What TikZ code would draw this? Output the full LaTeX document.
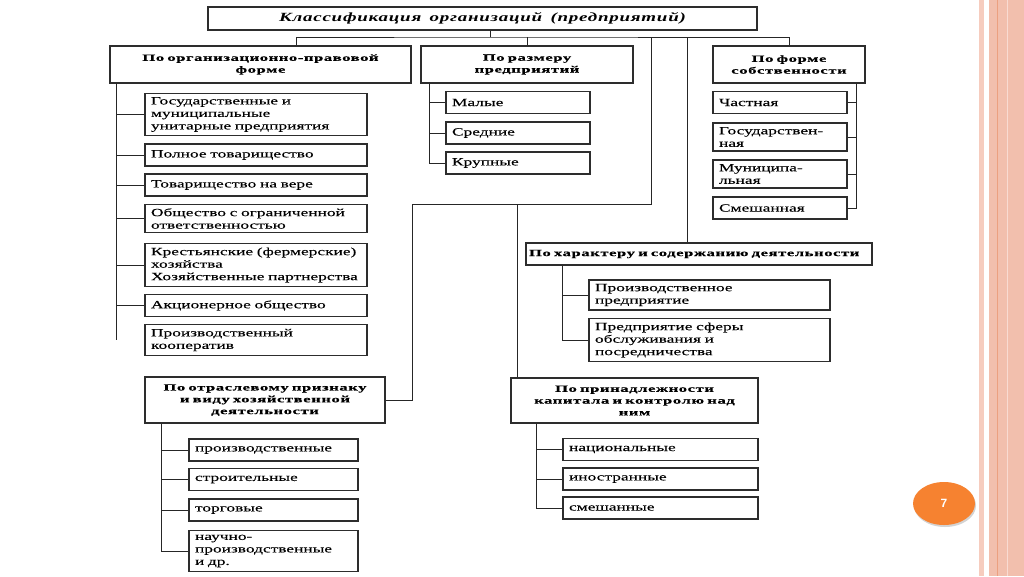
\documentclass[tikz,border=0pt]{standalone}
\usepackage{fontspec}
\setmainfont{Liberation Serif}[FakeStretch=1.58,FakeBold=0.15]
\newfontfamily\headfont{Liberation Serif}[FakeStretch=1.75,LetterSpace=6,WordSpace=1.7,FakeBold=0.4]
\newfontfamily\titlefont{Liberation Serif}[FakeStretch=1.52,LetterSpace=6,WordSpace=1.5]
\newfontfamily\numfont{Liberation Sans}
\usetikzlibrary{shapes.geometric,shadows}
\definecolor{numorange}{RGB}{246,130,48}
\definecolor{bandpink}{RGB}{242,191,173}
\definecolor{stripepink}{RGB}{246,204,190}
\definecolor{bandline}{RGB}{236,160,128}
\definecolor{boxgray}{RGB}{45,45,45}

\begin{document}
\begin{tikzpicture}[x=1pt,y=-1pt,
	cat/.style={draw=boxgray,line width=1.2pt,align=center,inner xsep=3pt,inner ysep=2pt,minimum height=37pt,
	  font=\headfont\bfseries\fontsize{9.5}{11.8}\selectfont,text width=#1},
	item/.style={draw=boxgray,line width=1.2pt,align=left,inner xsep=6pt,inner ysep=4pt,minimum height=22pt,
	  font=\fontsize{11}{12.5}\selectfont,text width=#1},
	link/.style={line width=0.9pt,draw=black!85}]
	\useasboundingbox (0,0) rectangle (1024,576);
	
	%page decoration
	\fill[stripepink] (979,0) rectangle (984,576);
	\fill[bandpink] (989,0) rectangle (1024,576);
	\draw[bandline,line width=0.8pt] (997,0) -- (997,576);
	\draw[stripepink!70!white,line width=0.8pt] (1007,0) -- (1007,576);
	
	%title and categories
	\node[draw=boxgray,line width=1.2pt,minimum width=549pt,minimum height=23pt,inner sep=0pt,
	  font=\titlefont\bfseries\itshape\fontsize{12.5}{14}\selectfont] (title) at (482.5,18.5)
	  {Классификация организаций (предприятий)};
	\node[cat=295pt] (org) at (260.5,64.5) {По организационно-правовой\\форме};
	\node[cat=206pt] (size) at (527,64.5) {По размеру\\предприятий};
	\node[cat=146pt] (form) at (789,64.5) {По форме\\собственности};
	\node[cat=340pt,minimum height=22pt,align=left] (har) at (699,254) {По характеру и содержанию деятельности};
	\node[cat=234pt,minimum height=46pt] (otr) at (265,400) {По отраслевому признаку\\и виду хозяйственной\\деятельности};
	\node[cat=241pt,minimum height=45pt] (prin) at (634.5,400.5) {По принадлежности\\капитала и контролю над\\ним};
	
	%legal forms
	\node[item=210pt] (gos) at (256,114.5) {Государственные и\\муниципальные\\унитарные предприятия};
	\node[item=210pt] (poln) at (256,155) {Полное товарищество};
	\node[item=210pt] (vera) at (256,185) {Товарищество на вере};
	\node[item=210pt] (ooo) at (256,218.5) {Общество с ограниченной\\ответственностью};
	\node[item=210pt] (krest) at (256,265) {Крестьянские (фермерские)\\хозяйства\\Хозяйственные партнерства};
	\node[item=210pt] (ao) at (256,305.5) {Акционерное общество};
	\node[item=210pt] (koop) at (256,340) {Производственный\\кооператив};
	
	%size
	\node[item=132pt] (mal) at (518,102.5) {Малые};
	\node[item=132pt] (sred) at (518,133) {Средние};
	\node[item=132pt] (krup) at (518,163) {Крупные};
	
	%ownership
	\node[item=122pt] (chast) at (780,102.5) {Частная};
	\node[item=122pt] (gosf) at (780,137) {Государствен-\\ная};
	\node[item=122pt] (mun) at (780,174) {Муниципа-\\льная};
	\node[item=122pt] (smesh) at (780,208) {Смешанная};
	
	%activity
	\node[item=229pt] (proizv) at (709.5,295) {Производственное\\предприятие};
	\node[item=229pt] (sfer) at (709.5,340) {Предприятие сферы\\обслуживания и\\посредничества};
	
	%branch
	\node[item=157pt] (pr) at (273.5,450) {производственные};
	\node[item=157pt] (str) at (273.5,479.5) {строительные};
	\node[item=157pt] (torg) at (273.5,510) {торговые};
	\node[item=157pt] (nauch) at (273.5,551) {научно-\\производственные\\и др.};
	
	%capital
	\node[item=183pt] (nac) at (660.5,449.5) {национальные};
	\node[item=183pt] (ino) at (660.5,479) {иностранные};
	\node[item=183pt] (smes) at (660.5,508) {смешанные};
	
	%page number
	\node[ellipse,fill=numorange,minimum width=62pt,minimum height=43pt,text=white,
	  font=\numfont\bfseries\fontsize{12}{14}\selectfont,drop shadow={opacity=0.35,shadow xshift=1pt,shadow yshift=-2pt}] (num) at (944,503.5) {7};
	
	%connectors from the title
	\coordinate (bus) at (490,37);
	\coordinate (bx) at (651,204);
	\coordinate (cx) at (412,204);
	\draw[link] (title.south -| bus) -- (bus);
	\draw[link] ([xshift=36pt]org.north) |- (bus) -| (form.north);
	\draw[link] (size.north) -- (size.north |- bus);
	\draw[link] (bx |- bus) -- (bx) -- (cx) |- (otr.east);
	\draw[link] ([xshift=7pt]prin.north west) -- ([xshift=7pt]prin.north west |- bx);
	\draw[link] ([xshift=-12pt]har.north) -- ([xshift=-12pt]har.north |- bus);
	
	%connectors to the items
	\foreach \n in {gos,poln,vera,ooo,krest,ao}
	  \draw[link] ([xshift=7pt]org.south west) |- (\n.west);
	\draw[link] ([xshift=7pt]org.south west) -- ([xshift=7pt]org.south west |- koop.west);
	\foreach \n in {mal,sred,krup}
	  \draw[link] ([xshift=9pt]size.south west) |- (\n.west);
	\foreach \n in {chast,gosf,mun,smesh}
	  \draw[link] ([xshift=-9pt]form.south east) |- (\n.east);
	\foreach \n in {proizv,sfer}
	  \draw[link] ([xshift=37pt]har.south west) |- (\n.west);
	\foreach \n in {pr,str,torg,nauch}
	  \draw[link] ([xshift=17pt]otr.south west) |- (\n.west);
	\foreach \n in {nac,ino,smes}
	  \draw[link] ([xshift=26pt]prin.south west) |- (\n.west);
\end{tikzpicture}
\end{document}
